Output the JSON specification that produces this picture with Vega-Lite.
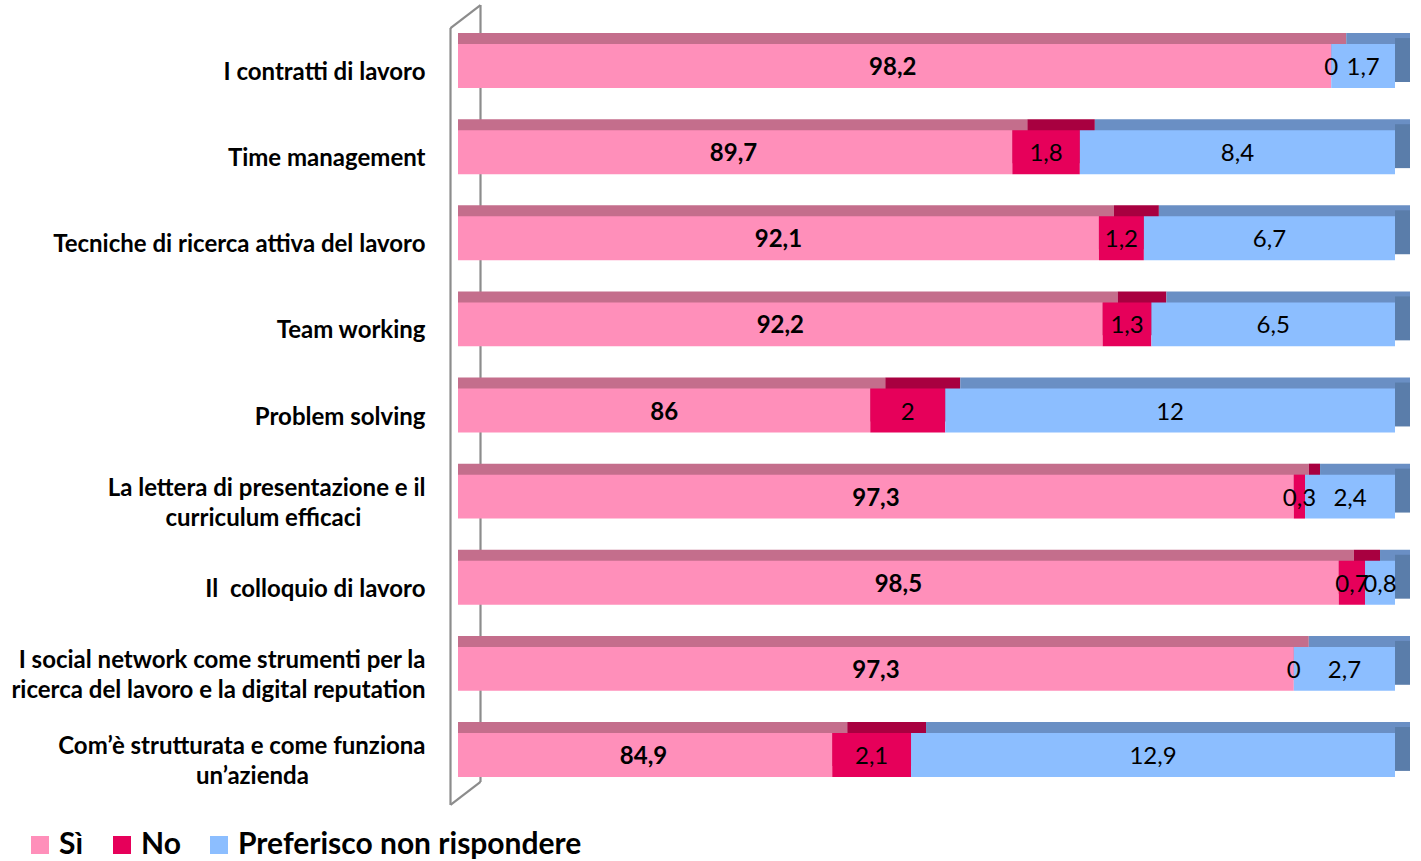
{
  "$schema": "https://vega.github.io/schema/vega-lite/v6.json",
  "width": 960,
  "height": 775,
  "autosize": "none",
  "padding": {"left": 458, "top": 23, "right": 3, "bottom": 63},
  "background": "white",
  "config": {
    "view": {"stroke": null},
    "font": "Lato",
    "locale": {"number": {"decimal": ",", "thousands": ".", "grouping": [3], "currency": ["€", ""]}},
    "axisY": {
      "domain": false,
      "ticks": false,
      "grid": false,
      "title": null,
      "labelFont": "Lato",
      "labelFontSize": 24,
      "labelFontWeight": "bold",
      "labelColor": "#000000",
      "labelPadding": 33,
      "labelLimit": 700,
      "labelOffset": {"condition": {"test": "indexof(datum.label, '\\n') >= 0", "value": -8}, "value": 7},
      "labelLineHeight": 30,
      "labelExpr": "length(split(datum.label, '\\n')) < 2 ? replace(datum.label, '  ', '\u00a0 ') : [pad(split(datum.label, '\\n')[0], length(split(datum.label, '\\n')[0]) + (length(split(datum.label, '\\n')[1]) - length(split(datum.label, '\\n')[0]) > 6 ? round(0.88 * (length(split(datum.label, '\\n')[1]) - length(split(datum.label, '\\n')[0]))) : 0), '\u00a0') + '\u200b', pad(split(datum.label, '\\n')[1], length(split(datum.label, '\\n')[1]) + (length(split(datum.label, '\\n')[0]) - length(split(datum.label, '\\n')[1]) > 6 ? round(0.88 * (length(split(datum.label, '\\n')[0]) - length(split(datum.label, '\\n')[1]))) : 0), '\u00a0') + '\u200b']"
    }
  },
  "data": {
    "values": [
      {"item": "I contratti di lavoro", "risposta": "Sì", "k": 1, "valore": 98.2},
      {"item": "I contratti di lavoro", "risposta": "No", "k": 2, "valore": 0},
      {"item": "I contratti di lavoro", "risposta": "Preferisco non rispondere", "k": 3, "valore": 1.7},
      {"item": "Time management", "risposta": "Sì", "k": 1, "valore": 89.7},
      {"item": "Time management", "risposta": "No", "k": 2, "valore": 1.8},
      {"item": "Time management", "risposta": "Preferisco non rispondere", "k": 3, "valore": 8.4},
      {"item": "Tecniche di ricerca attiva del lavoro", "risposta": "Sì", "k": 1, "valore": 92.1},
      {"item": "Tecniche di ricerca attiva del lavoro", "risposta": "No", "k": 2, "valore": 1.2},
      {"item": "Tecniche di ricerca attiva del lavoro", "risposta": "Preferisco non rispondere", "k": 3, "valore": 6.7},
      {"item": "Team working", "risposta": "Sì", "k": 1, "valore": 92.2},
      {"item": "Team working", "risposta": "No", "k": 2, "valore": 1.3},
      {"item": "Team working", "risposta": "Preferisco non rispondere", "k": 3, "valore": 6.5},
      {"item": "Problem solving", "risposta": "Sì", "k": 1, "valore": 86},
      {"item": "Problem solving", "risposta": "No", "k": 2, "valore": 2},
      {"item": "Problem solving", "risposta": "Preferisco non rispondere", "k": 3, "valore": 12},
      {"item": "La lettera di presentazione e il\ncurriculum efficaci", "risposta": "Sì", "k": 1, "valore": 97.3},
      {"item": "La lettera di presentazione e il\ncurriculum efficaci", "risposta": "No", "k": 2, "valore": 0.3},
      {"item": "La lettera di presentazione e il\ncurriculum efficaci", "risposta": "Preferisco non rispondere", "k": 3, "valore": 2.4},
      {"item": "Il  colloquio di lavoro", "risposta": "Sì", "k": 1, "valore": 98.5},
      {"item": "Il  colloquio di lavoro", "risposta": "No", "k": 2, "valore": 0.7},
      {"item": "Il  colloquio di lavoro", "risposta": "Preferisco non rispondere", "k": 3, "valore": 0.8},
      {"item": "I social network come strumenti per la\nricerca del lavoro e la digital reputation", "risposta": "Sì", "k": 1, "valore": 97.3},
      {"item": "I social network come strumenti per la\nricerca del lavoro e la digital reputation", "risposta": "No", "k": 2, "valore": 0},
      {"item": "I social network come strumenti per la\nricerca del lavoro e la digital reputation", "risposta": "Preferisco non rispondere", "k": 3, "valore": 2.7},
      {"item": "Com’è strutturata e come funziona\nun’azienda", "risposta": "Sì", "k": 1, "valore": 84.9},
      {"item": "Com’è strutturata e come funziona\nun’azienda", "risposta": "No", "k": 2, "valore": 2.1},
      {"item": "Com’è strutturata e come funziona\nun’azienda", "risposta": "Preferisco non rispondere", "k": 3, "valore": 12.9}
    ]
  },
  "resolve": {"scale": {"x": "independent"}},
  "layer": [
    {
      "layer": [
        {
          "data": {"values": [{"a": 1}]},
          "mark": {"type": "rule", "color": "#8c8c8c", "strokeWidth": 2.2, "xOffset": -7.5, "x2Offset": -7.5, "yOffset": -38, "y2Offset": 50},
          "encoding": {
            "x": {"datum": 0.75, "type": "quantitative", "scale": {"domain": [0.75, 1], "range": [0, 937], "nice": false, "zero": false}, "axis": null},
            "x2": {"datum": 0.75},
            "y": {"datum": "I contratti di lavoro", "type": "nominal", "sort": null, "scale": {"domain": ["I contratti di lavoro", "Time management", "Tecniche di ricerca attiva del lavoro", "Team working", "Problem solving", "La lettera di presentazione e il\ncurriculum efficaci", "Il  colloquio di lavoro", "I social network come strumenti per la\nricerca del lavoro e la digital reputation", "Com’è strutturata e come funziona\nun’azienda"], "paddingInner": 0.49, "paddingOuter": 0.245}},
            "y2": {"datum": "Com’è strutturata e come funziona\nun’azienda"}
          }
        },
        {
          "data": {"values": [{"a": 1}]},
          "mark": {"type": "rule", "color": "#8c8c8c", "strokeWidth": 2.2, "xOffset": 22.5, "x2Offset": 22.5, "yOffset": -61, "y2Offset": 27},
          "encoding": {
            "x": {"datum": 0.75, "type": "quantitative", "axis": null},
            "x2": {"datum": 0.75},
            "y": {"datum": "I contratti di lavoro", "type": "nominal", "sort": null},
            "y2": {"datum": "Com’è strutturata e come funziona\nun’azienda"}
          }
        },
        {
          "data": {"values": [{"a": 1}]},
          "mark": {"type": "rule", "color": "#8c8c8c", "strokeWidth": 2.2, "xOffset": -7.5, "x2Offset": 22.5, "yOffset": -38, "y2Offset": -61},
          "encoding": {
            "x": {"datum": 0.75, "type": "quantitative", "axis": null},
            "x2": {"datum": 0.75},
            "y": {"datum": "I contratti di lavoro", "type": "nominal", "sort": null},
            "y2": {"datum": "I contratti di lavoro"}
          }
        },
        {
          "data": {"values": [{"a": 1}]},
          "mark": {"type": "rule", "color": "#8c8c8c", "strokeWidth": 2.2, "xOffset": -7.5, "x2Offset": 22.5, "yOffset": 50, "y2Offset": 27},
          "encoding": {
            "x": {"datum": 0.75, "type": "quantitative", "axis": null},
            "x2": {"datum": 0.75},
            "y": {"datum": "Com’è strutturata e come funziona\nun’azienda", "type": "nominal", "sort": null},
            "y2": {"datum": "Com’è strutturata e come funziona\nun’azienda"}
          }
        },
        {
          "mark": {"type": "bar", "clip": true, "xOffset": 15, "x2Offset": 15, "yOffset": -11, "y2Offset": -11},
          "encoding": {
            "y": {"field": "item", "type": "nominal", "sort": null},
            "x": {"field": "valore", "type": "quantitative", "stack": "normalize", "axis": null},
            "detail": {"field": "risposta"},
            "order": {"field": "k", "type": "quantitative"},
            "color": {
              "condition": [
                {"test": "datum.risposta === 'Sì'", "value": "#C46E8C"},
                {"test": "datum.risposta === 'No'", "value": "#A80040"}
              ],
              "value": "#6A8FC4"
            }
          }
        },
        {
          "transform": [
            {"stack": "valore", "groupby": ["item"], "sort": [{"field": "k", "order": "ascending"}], "offset": "normalize", "as": ["s0", "s1"]},
            {"filter": "datum.risposta === 'Preferisco non rispondere'"}
          ],
          "mark": {"type": "bar", "clip": true, "color": "#5A7DAA", "xOffset": 0, "x2Offset": 15, "yOffset": -6, "y2Offset": -6},
          "encoding": {
            "y": {"field": "item", "type": "nominal", "sort": null},
            "x": {"field": "s1", "type": "quantitative", "axis": null},
            "x2": {"field": "s1"}
          }
        },
        {
          "mark": {"type": "bar", "clip": true},
          "encoding": {
            "y": {"field": "item", "type": "nominal", "sort": null},
            "x": {"field": "valore", "type": "quantitative", "stack": "normalize", "axis": null},
            "order": {"field": "k", "type": "quantitative"},
            "color": {
              "field": "risposta",
              "type": "nominal",
              "scale": {"domain": ["Sì", "No", "Preferisco non rispondere"], "range": ["#FF8FBA", "#E6005A", "#8CBEFF"]},
              "legend": {
                "orient": "none",
                "legendX": -433,
                "legendY": 807,
                "direction": "horizontal",
                "title": null,
                "symbolType": "square",
                "symbolSize": 324,
                "symbolStrokeWidth": 0,
                "labelFont": "Lato",
                "labelFontSize": 30,
                "labelFontWeight": "bold",
                "labelColor": "#000000",
                "labelLimit": 600,
                "labelOffset": 4,
                "columnPadding": 23
              }
            }
          }
        },
        {
          "mark": {"type": "text", "clip": true, "fontSize": 24, "color": "#000000", "baseline": "middle", "dy": 2},
          "encoding": {
            "y": {"field": "item", "type": "nominal", "sort": null},
            "x": {"field": "valore", "type": "quantitative", "stack": "normalize", "bandPosition": 0.5, "axis": null},
            "detail": {"field": "risposta"},
            "order": {"field": "k", "type": "quantitative"},
            "text": {
              "condition": {"test": "datum.risposta === 'Sì'", "value": ""},
              "field": "valore",
              "type": "quantitative",
              "format": ".1~f"
            }
          }
        }
      ]
    },
    {
      "transform": [{"filter": "datum.risposta === 'Sì'"}],
      "mark": {"type": "text", "fontSize": 24, "fontWeight": "bold", "color": "#000000", "baseline": "middle", "dy": 2},
      "encoding": {
        "y": {"field": "item", "type": "nominal", "sort": null},
        "x": {"field": "valore", "type": "quantitative", "scale": {"domain": [75, 125], "range": [0, 937], "nice": false, "zero": false}, "axis": null},
        "text": {"field": "valore", "type": "quantitative", "format": ".1~f"}
      }
    }
  ]
}
